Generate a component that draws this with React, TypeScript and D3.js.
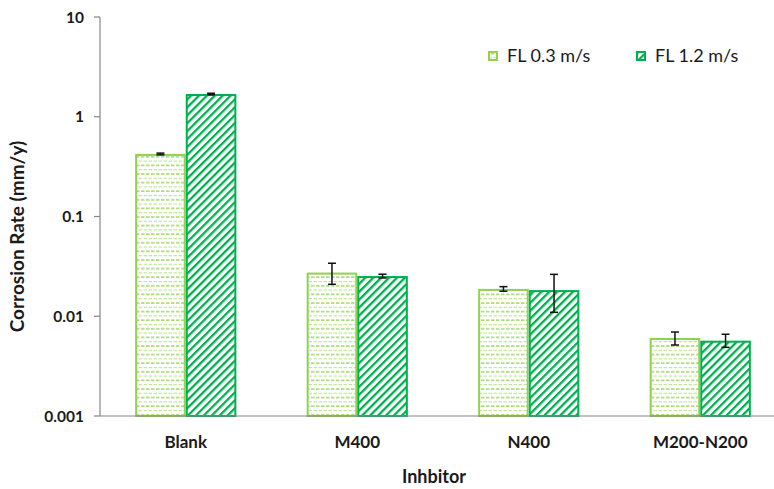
import React, { useEffect, useRef } from "react";
import * as d3 from "d3";

const categories = ["Blank", "M400", "N400", "M200-N200"];
const seriesNames = ["FL 0.3 m/s", "FL 1.2 m/s"];
const slowValues = [0.424, 0.0274, 0.0188, 0.00605];
const slowErrLow = [0.415, 0.0209, 0.0178, 0.00515];
const slowErrHigh = [0.432, 0.034, 0.0198, 0.00695];
const fastValues = [1.69, 0.0253, 0.0183, 0.00569];
const fastErrLow = [1.66, 0.0242, 0.01095, 0.00488];
const fastErrHigh = [1.72, 0.0264, 0.0263, 0.0066];
const yTicks = [0.001, 0.01, 0.1, 1, 10];

const LIGHT = "#92D050";
const DARK = "#00B050";
const FONT = "Lato, 'Open Sans', sans-serif";

const App = () => {
  const ref = useRef<SVGSVGElement>(null);

  useEffect(() => {
    const width = 774;
    const height = 489;
    const margin = { top: 17, right: -12, bottom: 73, left: 100 };

    const svg = d3.select(ref.current).attr("width", width).attr("height", height);
    svg.selectAll("*").remove();

    const defs = svg.append("defs");
    const pl = defs.append("pattern")
      .attr("id", "pat-light")
      .attr("patternUnits", "userSpaceOnUse")
      .attr("width", 10)
      .attr("height", 8.6);
    pl.append("line").attr("x1", 1).attr("x2", 4.5).attr("y1", 2).attr("y2", 2)
      .attr("stroke", LIGHT).attr("stroke-width", 1.3);
    pl.append("line").attr("x1", 6).attr("x2", 9.5).attr("y1", 2).attr("y2", 2)
      .attr("stroke", LIGHT).attr("stroke-width", 1.3);
    pl.append("line").attr("x1", 3.5).attr("x2", 7).attr("y1", 6.3).attr("y2", 6.3)
      .attr("stroke", LIGHT).attr("stroke-width", 1.1).attr("opacity", 0.6);
    pl.append("line").attr("x1", 8.5).attr("x2", 12).attr("y1", 6.3).attr("y2", 6.3)
      .attr("stroke", LIGHT).attr("stroke-width", 1.1).attr("opacity", 0.6);
    pl.append("line").attr("x1", -1.5).attr("x2", 2).attr("y1", 6.3).attr("y2", 6.3)
      .attr("stroke", LIGHT).attr("stroke-width", 1.1).attr("opacity", 0.6);

    const pd = defs.append("pattern")
      .attr("id", "pat-dark")
      .attr("patternUnits", "userSpaceOnUse")
      .attr("width", 5.6)
      .attr("height", 5.6)
      .attr("patternTransform", "rotate(45)");
    pd.append("rect").attr("x", 0).attr("y", 0).attr("width", 2.3).attr("height", 5.6)
      .attr("fill", DARK);

    const x0 = d3.scaleBand<string>()
      .domain(categories)
      .range([margin.left, width - margin.right])
      .paddingInner(0.41)
      .paddingOuter(0.205);

    const x1 = d3.scaleBand<string>()
      .domain(seriesNames)
      .range([0, x0.bandwidth()]);

    const y = d3.scaleLog()
      .domain([0.001, 10])
      .range([height - margin.bottom, margin.top]);

    // axes
    const axisColor = "#868686";
    svg.append("line")
      .attr("x1", margin.left).attr("x2", margin.left)
      .attr("y1", y(10)).attr("y2", y(0.001))
      .attr("stroke", axisColor).attr("stroke-width", 1.2);

    svg.selectAll(".ytick")
      .data(yTicks)
      .enter()
      .append("line")
      .attr("x1", margin.left - 6).attr("x2", margin.left)
      .attr("y1", d => y(d)).attr("y2", d => y(d))
      .attr("stroke", axisColor).attr("stroke-width", 1.2);

    svg.selectAll(".ylab")
      .data(yTicks)
      .enter()
      .append("text")
      .attr("x", margin.left - 16)
      .attr("y", d => y(d))
      .attr("dy", "0.36em")
      .attr("text-anchor", "end")
      .attr("font-family", FONT)
      .attr("font-weight", "bold")
      .attr("font-size", 15.5)
      .attr("fill", "#1a1a1a")
      .text(d => d3.format("~g")(d));

    const series = [
      { name: seriesNames[0], vals: slowValues, lo: slowErrLow, hi: slowErrHigh, fill: "url(#pat-light)", stroke: LIGHT },
      { name: seriesNames[1], vals: fastValues, lo: fastErrLow, hi: fastErrHigh, fill: "url(#pat-dark)", stroke: DARK },
    ];

    series.forEach(s => {
      const g = svg.append("g");
      g.selectAll("rect")
        .data(categories)
        .enter()
        .append("rect")
        .attr("x", (c) => (x0(c) as number) + (x1(s.name) as number))
        .attr("y", (c, i) => y(s.vals[i]))
        .attr("width", x1.bandwidth())
        .attr("height", (c, i) => y(0.001) - y(s.vals[i]))
        .attr("fill", "white");
      g.selectAll(".bar")
        .data(categories)
        .enter()
        .append("rect")
        .attr("x", (c) => (x0(c) as number) + (x1(s.name) as number) + 1)
        .attr("y", (c, i) => y(s.vals[i]) + 1)
        .attr("width", x1.bandwidth() - 2)
        .attr("height", (c, i) => y(0.001) - y(s.vals[i]) - 1)
        .attr("fill", s.fill)
        .attr("stroke", s.stroke)
        .attr("stroke-width", 2);
    });

    svg.append("line")
      .attr("x1", margin.left).attr("x2", width)
      .attr("y1", y(0.001)).attr("y2", y(0.001))
      .attr("stroke", axisColor).attr("stroke-width", 1.2);

    // error bars
    series.forEach(s => {
      const g = svg.append("g").attr("stroke", "#111").attr("stroke-width", 1.5);
      categories.forEach((c, i) => {
        const cx = (x0(c) as number) + (x1(s.name) as number) + x1.bandwidth() / 2;
        g.append("line").attr("x1", cx).attr("x2", cx).attr("y1", y(s.lo[i])).attr("y2", y(s.hi[i]));
        g.append("line").attr("x1", cx - 4).attr("x2", cx + 4).attr("y1", y(s.lo[i])).attr("y2", y(s.lo[i]));
        g.append("line").attr("x1", cx - 4).attr("x2", cx + 4).attr("y1", y(s.hi[i])).attr("y2", y(s.hi[i]));
      });
    });

    // category labels
    svg.selectAll(".xlab")
      .data(categories)
      .enter()
      .append("text")
      .attr("x", d => (x0(d) as number) + x0.bandwidth() / 2)
      .attr("y", 448)
      .attr("text-anchor", "middle")
      .attr("font-family", FONT)
      .attr("font-weight", "bold")
      .attr("font-size", 17)
      .attr("fill", "#1a1a1a")
      .text(d => d);

    svg.append("text")
      .attr("x", 434)
      .attr("y", 483)
      .attr("text-anchor", "middle")
      .attr("font-family", FONT)
      .attr("font-weight", "bold")
      .attr("font-size", 18)
      .attr("fill", "#1a1a1a")
      .text("Inhbitor");

    svg.append("text")
      .attr("transform", `translate(24, ${y(0.1) + 20}) rotate(-90)`)
      .attr("text-anchor", "middle")
      .attr("font-family", FONT)
      .attr("font-weight", "bold")
      .attr("font-size", 19)
      .attr("fill", "#1a1a1a")
      .text("Corrosion Rate (mm/y)");

    // legend
    const legendX = [488, 636];
    series.forEach((s, i) => {
      svg.append("rect")
        .attr("x", legendX[i] + 1).attr("y", 52)
        .attr("width", 8).attr("height", 8)
        .attr("fill", "white");
      svg.append("rect")
        .attr("x", legendX[i] + 1).attr("y", 52)
        .attr("width", 8).attr("height", 8)
        .attr("fill", s.fill)
        .attr("stroke", s.stroke)
        .attr("stroke-width", 2);
      svg.append("text")
        .attr("x", legendX[i] + 19)
        .attr("y", 56)
        .attr("dy", "0.36em")
        .attr("font-family", FONT)
        .attr("font-size", 18)
        .attr("fill", "#1a1a1a")
        .text(s.name);
    });
  }, []);

  return <svg ref={ref} style={{ position: "absolute", left: 0, top: 0 }}></svg>;
};

export default App;
